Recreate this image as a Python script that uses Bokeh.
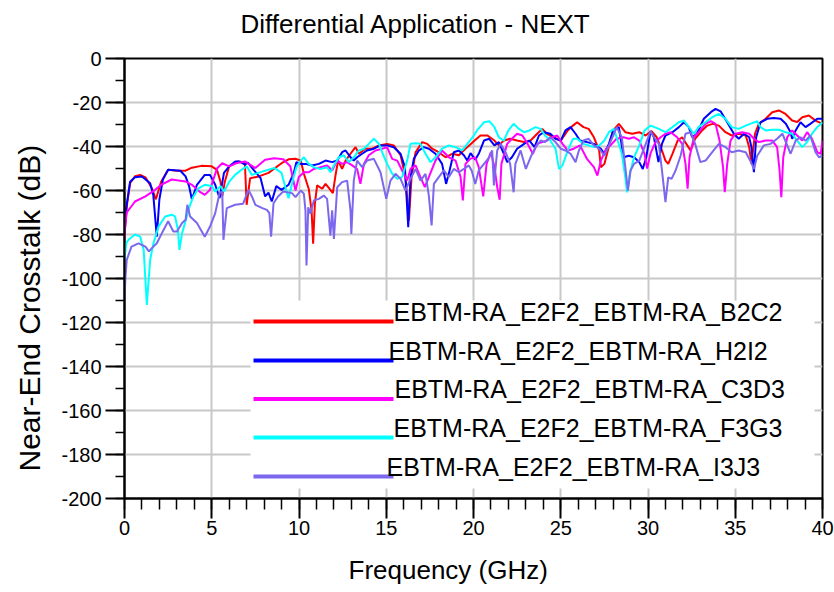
from bokeh.plotting import figure
from bokeh.models import (Range1d, SingleIntervalTicker, Label, BoxAnnotation, PrintfTickFormatter, Title)
from bokeh.embed import file_html
from bokeh.resources import INLINE

TITLE = "Differential Application - NEXT"
X_LABEL = "Frequency (GHz)"
Y_LABEL = "Near-End Crosstalk (dB)"

names = [
    "EBTM-RA_E2F2_EBTM-RA_B2C2",
    "EBTM-RA_E2F2_EBTM-RA_H2I2",
    "EBTM-RA_E2F2_EBTM-RA_C3D3",
    "EBTM-RA_E2F2_EBTM-RA_F3G3",
    "EBTM-RA_E2F2_EBTM-RA_I3J3",
]
colors = ["#ff0000", "#0000ff", "#ff00ff", "#00ffff", "#7b68ee"]

# (frequency GHz, dB) pairs
red = [(0, -80), (0.15, -66), (0.32, -56.7), (0.6, -53.5), (0.9, -52.9), (1.2, -54), (1.57, -59), (1.8, -64),
       (2.1, -56), (2.5, -50.6), (3.0, -51), (3.5, -51), (3.8, -49.8), (4.4, -48.8), (5.0, -49), (5.3, -50.6),
       (5.5, -56), (5.6, -62.7), (5.75, -56), (6.0, -49), (6.5, -46.8), (6.9, -47.6), (7.0, -66.5), (7.2, -54.4),
       (7.7, -53.6), (8.25, -52), (9.0, -47.6), (9.4, -45.8), (9.8, -45.6), (10.1, -46.4), (10.28, -52.4),
       (10.56, -59.3), (10.72, -69), (10.81, -84.2), (10.91, -66), (11.04, -57.7), (11.33, -59.2), (11.52, -57),
       (11.71, -58.8), (11.94, -61.2), (12.09, -53.2), (12.24, -46.4), (12.47, -50.2), (12.67, -46.4),
       (12.95, -43.3), (13.24, -40.3), (13.43, -43.3), (13.81, -41), (14.19, -41), (14.58, -39.5), (15.05, -38.8),
       (15.43, -39.5), (15.82, -44), (16.1, -53.9), (16.3, -73.6), (16.45, -53.9), (16.68, -42.6), (17.06, -38),
       (17.35, -38.8), (17.63, -41), (18.0, -42.6), (18.4, -44.9), (18.78, -43.3), (19.16, -44), (19.54, -41),
       (19.83, -39), (20.1, -37), (20.4, -35), (20.8, -35), (21.2, -37.3), (21.45, -39.5), (21.74, -37.3),
       (22.1, -36.5), (22.5, -37.3), (22.9, -38), (23.27, -37.3), (23.65, -34.2), (23.94, -32), (24.2, -34.2),
       (24.6, -35.8), (25.0, -37.3), (25.4, -32.7), (25.7, -30.5), (25.94, -29), (26.3, -31.2), (26.6, -32),
       (26.9, -35.8), (27.2, -41.8), (27.3, -49.4), (27.5, -47.9), (27.7, -41.8), (28.0, -32.7), (28.33, -29.7),
       (28.7, -33.5), (29.1, -34.2), (29.5, -33.5), (29.86, -35), (30.2, -33), (30.5, -35.8), (30.8, -41.8),
       (31.0, -46.4), (31.16, -47.9), (31.4, -43.3), (31.7, -37.3), (31.96, -35.8), (32.25, -39.5), (32.44, -41.8),
       (32.7, -36.5), (33.1, -32.7), (33.4, -30.5), (33.7, -29.7), (34.06, -30.5), (34.44, -33.5), (34.8, -35),
       (35.2, -34.2), (35.6, -35), (35.8, -40.3), (35.93, -47.9), (36.13, -34.2), (36.35, -29.7), (36.74, -27.4),
       (37.12, -24.4), (37.5, -23.6), (37.88, -25.2), (38.26, -28.2), (38.55, -28.9), (38.84, -26.7),
       (39.22, -25.9), (39.6, -28.2), (40.0, -29.7)]

blue = [(0, -80), (0.1, -68), (0.32, -56), (0.6, -54), (1.0, -53.6), (1.47, -56.7), (1.65, -62), (1.85, -81),
        (2.0, -64), (2.2, -55), (2.5, -50.6), (3.2, -51), (3.5, -53.6), (3.7, -58), (3.86, -64), (4.15, -57.4),
        (4.6, -52.9), (4.9, -52.9), (5.2, -57.4), (5.45, -63.5), (5.7, -52), (6.0, -49), (6.35, -46.8),
        (6.6, -46.8), (6.9, -48.3), (7.07, -47.3), (7.4, -50.6), (7.8, -54.4), (8.06, -62.7), (8.25, -61),
        (8.44, -65), (8.7, -58), (9.0, -59.7), (9.4, -57.4), (9.7, -52), (9.85, -47.1), (10.1, -47.9),
        (10.37, -47.9), (10.75, -48.6), (11.14, -47.9), (11.52, -46.4), (11.9, -47.1), (12.19, -46.4),
        (12.47, -42.6), (12.67, -41.8), (12.95, -44.9), (13.14, -46.4), (13.33, -44.9), (13.62, -43.3),
        (13.9, -41.8), (14.29, -41), (14.67, -39.5), (15.05, -39.5), (15.43, -40.3), (15.82, -43.3),
        (16.07, -49.4), (16.26, -76.7), (16.39, -53.9), (16.58, -45.6), (16.87, -41.8), (17.15, -40.3),
        (17.44, -41), (17.82, -43.3), (18.2, -47.9), (18.43, -57), (18.63, -50.9), (18.87, -42.6), (19.16, -41.8),
        (19.45, -44), (19.64, -46.4), (19.83, -43), (20.1, -46), (20.3, -43.3), (20.6, -37.3), (20.9, -36.5),
        (21.2, -39.5), (21.45, -38), (21.74, -43.3), (21.93, -47.1), (22.2, -44.9), (22.5, -41), (22.9, -38.8),
        (23.2, -37.3), (23.5, -40.3), (23.75, -35), (24.03, -33.5), (24.4, -34.2), (24.7, -36.5), (25.0, -37.3),
        (25.27, -32.7), (25.56, -31.2), (25.85, -34.2), (26.1, -37.3), (26.5, -38), (26.9, -38.8), (27.3, -41),
        (27.5, -43.3), (27.76, -38.8), (28.0, -32.7), (28.33, -31.2), (28.6, -44.9), (28.9, -44.2), (29.2, -44.9),
        (29.5, -47.1), (29.7, -50.2), (29.9, -44.9), (30.15, -33), (30.34, -35.8), (30.6, -47.1), (30.8, -38.8),
        (31.0, -35), (31.4, -33.5), (31.77, -31.2), (32.06, -29), (32.34, -31.2), (32.53, -35.8), (32.8, -34.2),
        (33.2, -27.4), (33.6, -24.4), (33.87, -22.9), (34.16, -24), (34.54, -29), (34.92, -34.2), (35.2, -36.5),
        (35.5, -34.2), (35.8, -35.8), (35.93, -40.3), (36.07, -51.7), (36.2, -35.8), (36.45, -29), (36.83, -27.4),
        (37.2, -27), (37.6, -27.4), (37.9, -29.7), (38.17, -33.5), (38.26, -36.5), (38.46, -32.7), (38.74, -29),
        (39.03, -31.2), (39.3, -29.7), (39.7, -27.4), (40.0, -27.4)]

magenta = [(0, -82), (0.05, -75), (0.13, -70), (0.6, -65), (1.2, -62.7), (1.76, -59.7), (2.1, -57.4), (2.7, -55),
           (3.5, -55.9), (3.86, -57.4), (4.3, -60.5), (4.6, -62), (4.9, -59.7), (5.3, -50), (5.6, -47.6),
           (6.0, -49), (6.4, -47.6), (6.9, -46.8), (7.5, -49.8), (8.06, -46), (8.6, -45.3), (9.1, -45.8),
           (9.5, -49), (9.8, -60), (9.99, -53.9), (10.28, -51.7), (10.56, -51.7), (10.85, -50.2), (11.23, -49.4),
           (11.61, -48.6), (11.9, -50.9), (12.19, -46.4), (12.47, -47.9), (12.76, -47.1), (13.05, -48.6),
           (13.33, -50.2), (13.52, -57), (13.72, -47.9), (14.0, -44), (14.38, -41.8), (14.77, -41), (15.05, -40.3),
           (15.34, -45.6), (15.63, -46.4), (15.91, -50.9), (16.2, -55.5), (16.39, -50.2), (16.68, -48.6),
           (16.96, -53.9), (17.21, -58.5), (17.44, -53.9), (17.82, -46.4), (18.2, -41.8), (18.59, -44.9),
           (18.97, -46.4), (19.26, -53.9), (19.39, -64.5), (19.54, -47.9), (19.83, -45.5), (20.1, -45),
           (20.3, -49.4), (20.56, -62.7), (20.75, -47.9), (21.0, -42.6), (21.2, -49.4), (21.36, -58.5),
           (21.5, -64.2), (21.6, -47.9), (21.93, -38.8), (22.2, -36.5), (22.5, -34.2), (22.8, -35), (23.1, -38.8),
           (23.4, -43.3), (23.65, -38.8), (23.94, -38), (24.2, -37.3), (24.5, -35.8), (24.8, -35), (25.1, -38.8),
           (25.4, -41.8), (25.75, -41), (26.1, -39.5), (26.5, -45.6), (26.9, -49.4), (27.1, -53.2), (27.3, -46.4),
           (27.6, -41), (27.85, -39.5), (28.2, -36.5), (28.6, -35.8), (28.9, -36.5), (29.2, -35.8), (29.5, -37.3),
           (29.8, -43.3), (29.95, -50), (30.15, -43), (30.43, -38), (30.72, -35.8), (31.0, -34.2), (31.3, -33.5),
           (31.67, -35.8), (31.96, -38.8), (32.15, -47.9), (32.27, -59.2), (32.38, -44.9), (32.63, -35.8),
           (32.9, -33.5), (33.3, -29.7), (33.6, -28.5), (33.87, -29.7), (34.1, -37.3), (34.3, -49.4), (34.4, -60.8),
           (34.54, -47.9), (34.73, -37.3), (35.0, -34.2), (35.4, -33.5), (35.8, -34.2), (36.07, -36.5),
           (36.35, -38), (36.74, -37.3), (37.12, -37.3), (37.4, -40.3), (37.54, -50.9), (37.64, -63),
           (37.75, -44.9), (37.98, -35.8), (38.26, -32.7), (38.55, -35), (38.84, -37.3), (39.12, -33.5),
           (39.4, -36.5), (39.7, -42.6), (39.9, -43.3), (40.0, -37.3)]

cyan = [(0, -91.5), (0.1, -84), (0.23, -82.4), (0.6, -80), (0.9, -81), (1.1, -87), (1.28, -112), (1.47, -91.5),
        (1.66, -84), (1.95, -76.4), (2.33, -71.8), (2.7, -71), (2.9, -71.8), (3.06, -77.9), (3.15, -87),
        (3.3, -79.4), (3.57, -71.8), (3.76, -66.5), (3.95, -62.7), (4.24, -59), (4.6, -57.4), (5.0, -58),
        (5.2, -60.5), (5.5, -58), (5.7, -60.5), (6.0, -56), (6.34, -52.9), (6.7, -50.6), (7.0, -49), (7.3, -52.9),
        (7.9, -51.4), (8.6, -49.8), (9.0, -52), (9.2, -58), (9.4, -63.5), (9.7, -53.6), (9.85, -49.5),
        (10.1, -46.4), (10.28, -44.9), (10.56, -47.9), (10.85, -49.4), (11.23, -50.2), (11.61, -49.4),
        (11.8, -51.7), (12.0, -48.6), (12.28, -44.9), (12.57, -44), (12.86, -47.1), (13.14, -44.9),
        (13.43, -41.8), (13.72, -41), (14.0, -38.8), (14.29, -36.5), (14.58, -38.8), (14.8, -43.3),
        (15.05, -47.9), (15.34, -52.4), (15.63, -54.7), (15.91, -53.9), (16.2, -46.4), (16.39, -38.8),
        (16.68, -38.5), (16.96, -38.8), (17.25, -43.3), (17.54, -47.1), (17.82, -44.9), (18.2, -41),
        (18.59, -39.5), (18.97, -40.3), (19.35, -41.8), (19.73, -38), (20.02, -35), (20.2, -32.7), (20.6, -29),
        (20.9, -28.5), (21.2, -31.2), (21.45, -35.8), (21.74, -37.3), (22.0, -32.7), (22.3, -29.7), (22.6, -32),
        (22.9, -33.5), (23.2, -32.7), (23.55, -31.2), (23.85, -32), (24.1, -35), (24.4, -37.3), (24.7, -41),
        (24.9, -50.2), (25.1, -48.6), (25.4, -41.8), (25.7, -36.5), (25.94, -36.5), (26.3, -38.8), (26.6, -39.5),
        (26.9, -40.3), (27.2, -39.5), (27.5, -37.3), (27.76, -33.5), (28.05, -32), (28.2, -35.8), (28.5, -43.3),
        (28.7, -54), (28.8, -60.8), (28.96, -52.4), (29.2, -44.9), (29.5, -39.5), (29.8, -32.7), (30.15, -30.5),
        (30.62, -32), (31.0, -33.5), (31.4, -31.2), (31.77, -29), (32.06, -28.2), (32.34, -31.2), (32.63, -34.2),
        (32.9, -31.2), (33.3, -29), (33.68, -26.7), (34.06, -25.2), (34.44, -27.4), (34.8, -31.2), (35.2, -32),
        (35.6, -30.5), (35.97, -29.4), (36.26, -28.5), (36.45, -31.2), (36.74, -32.7), (37.12, -32.4),
        (37.5, -32.4), (37.88, -33.5), (38.26, -34.2), (38.55, -37.3), (38.84, -40.3), (39.12, -38),
        (39.4, -34.2), (39.7, -31.2), (40.0, -29)]

purple = [(0, -110), (0.05, -100), (0.13, -91.5), (0.4, -85.5), (0.8, -84), (1.2, -85.5), (1.4, -87.7),
          (1.57, -86.2), (1.85, -84), (2.14, -79.4), (2.5, -74), (2.8, -78.6), (3.0, -78.6), (3.3, -74.8),
          (3.5, -73.3), (3.6, -66.5), (3.76, -71.8), (4.15, -74.8), (4.43, -78.6), (4.6, -81), (4.9, -76.4),
          (5.2, -70.3), (5.45, -61), (5.6, -60.5), (5.67, -82.4), (5.86, -68), (6.34, -66.5), (6.8, -66),
          (7.1, -59.7), (7.3, -62.7), (7.5, -66.5), (7.9, -68), (8.16, -68.8), (8.3, -70.3), (8.4, -81),
          (8.54, -65.8), (8.8, -62.7), (9.1, -60.5), (9.6, -61.2), (9.8, -63), (10.1, -60), (10.28, -61.5),
          (10.37, -69), (10.43, -94.1), (10.53, -67.6), (10.66, -70.6), (10.85, -64.5), (11.14, -63.8),
          (11.42, -62.3), (11.61, -63.8), (11.8, -80.5), (11.9, -69), (12.0, -82), (12.19, -58.5), (12.47, -56.2),
          (12.76, -55.5), (12.95, -69), (13.0, -79.7), (13.14, -55.5), (13.33, -46.4), (13.62, -49.4),
          (13.9, -46.4), (14.29, -45.6), (14.67, -51.7), (15.0, -63.8), (15.24, -55.5), (15.53, -52.4),
          (15.82, -54.7), (16.1, -60), (16.39, -54.7), (16.68, -50.2), (16.96, -55.5), (17.25, -52.4),
          (17.44, -62.3), (17.6, -75.9), (17.73, -57), (18.01, -53.9), (18.3, -50.9), (18.59, -53.9),
          (18.87, -50.2), (19.16, -51.7), (19.45, -50.2), (19.73, -48.6), (19.9, -51), (20.1, -57), (20.3, -50.9),
          (20.6, -47.9), (20.9, -44.9), (21.07, -41.8), (21.17, -57.7), (21.36, -41.8), (21.55, -38.8),
          (21.84, -42.6), (22.1, -47.9), (22.3, -60.8), (22.4, -47.9), (22.7, -41.8), (23.0, -50.2),
          (23.27, -44.9), (23.55, -40.3), (23.85, -37.3), (24.1, -38), (24.4, -35.8), (24.7, -38), (25.0, -41),
          (25.27, -41.8), (25.56, -43.3), (25.85, -47.1), (26.04, -41.8), (26.3, -37.3), (26.6, -36.5),
          (26.9, -39.5), (27.2, -41), (27.5, -44.2), (27.76, -39.5), (28.05, -34.2), (28.2, -31.2), (28.5, -35.8),
          (28.7, -49.4), (28.85, -60), (29.0, -50.9), (29.2, -47.9), (29.5, -46.4), (29.8, -40.3), (30.15, -33),
          (30.34, -35.8), (30.62, -38.8), (30.8, -50.9), (31.0, -65.3), (31.16, -54), (31.35, -54.7),
          (31.58, -50.9), (31.87, -44.2), (32.15, -34.2), (32.44, -33.5), (32.7, -38.8), (33.0, -47.1),
          (33.3, -46.4), (33.68, -42.6), (34.06, -38.8), (34.44, -40.3), (34.8, -42.6), (35.2, -41.8),
          (35.6, -42.6), (35.9, -47.1), (36.07, -50.2), (36.26, -44.2), (36.64, -39.5), (37.02, -38.8),
          (37.4, -36.5), (37.7, -34.2), (37.98, -39.5), (38.17, -43.3), (38.46, -37.3), (38.74, -35.8),
          (39.03, -37.3), (39.3, -35), (39.6, -42.6), (39.8, -44.9), (40.0, -44.2)]

series_data = [red, blue, magenta, cyan, purple]

FONT = "Liberation Sans"

p = figure(width=834, height=592, output_backend="svg", toolbar_location=None,
           x_range=Range1d(0, 40), y_range=Range1d(-200, 0),
           min_border_left=124, min_border_right=12, min_border_top=58, min_border_bottom=94)

p.background_fill_color = "white"
p.border_fill_color = "white"
p.outline_line_color = "black"
p.outline_line_width = 2
p.title.text = ""


def spacer(standoff):
    # white-on-white title used only to reserve space between a side text and the frame
    return Title(text=".", standoff=standoff, text_font_size="10px", text_color="white")


# side panels stack outward from the frame in list order
p.add_layout(spacer(10), "above")
title = Title(text=TITLE, align="left", offset=116, standoff=0,
              text_font=FONT, text_font_size="26px", text_font_style="normal", text_color="black")
p.add_layout(title, "above")

p.xaxis.ticker = SingleIntervalTicker(interval=5, num_minor_ticks=5)
p.yaxis.ticker = SingleIntervalTicker(interval=20, num_minor_ticks=2)
p.xaxis.formatter = PrintfTickFormatter(format="%d")
p.yaxis.formatter = PrintfTickFormatter(format="%d")

for ax in (p.xaxis[0], p.yaxis[0]):
    ax.axis_line_color = "black"
    ax.axis_line_width = 2
    ax.major_tick_line_color = "black"
    ax.major_tick_line_width = 2
    ax.minor_tick_line_color = "black"
    ax.minor_tick_line_width = 1.5
    ax.major_tick_in = 0
    ax.minor_tick_in = 0
    ax.major_label_text_font = FONT
    ax.major_label_text_font_size = "20px"
    ax.major_label_text_color = "black"

p.xaxis.major_tick_out = 20
p.xaxis.minor_tick_out = 11
p.yaxis.major_tick_out = 19
p.yaxis.minor_tick_out = 9
p.xaxis.major_label_standoff = 2
p.yaxis.major_label_standoff = 4

p.add_layout(spacer(5), "below")
xlab = Title(text=X_LABEL, align="left", offset=224, standoff=0,
             text_font=FONT, text_font_size="26px", text_font_style="normal", text_color="black")
p.add_layout(xlab, "below")
p.add_layout(spacer(3), "left")
ylab = Title(text=Y_LABEL, align="left", offset=27, standoff=0,
             text_font=FONT, text_font_size="30px", text_font_style="normal", text_color="black")
p.add_layout(ylab, "left")

p.xgrid.grid_line_color = "#c8c8c8"
p.ygrid.grid_line_color = "#c8c8c8"
p.xgrid.grid_line_width = 2
p.ygrid.grid_line_width = 2

for pts, color in zip(series_data, colors):
    xs = [a for a, b in pts]
    ys = [b for a, b in pts]
    p.line(xs, ys, line_color=color, line_width=2)

# legend drawn as annotations placed in screen pixels from the frame's bottom-left corner
p.add_layout(BoxAnnotation(left=126, right=690, bottom=10, top=198,
                           left_units="screen", right_units="screen",
                           bottom_units="screen", top_units="screen",
                           fill_color="white", fill_alpha=1.0, line_alpha=0, level="annotation"))
row_y = [177, 138, 99.5, 61, 22]
text_dx = [269, 264, 270, 269, 262]
for name, color, ry, dx in zip(names, colors, row_y, text_dx):
    p.add_layout(BoxAnnotation(left=129, right=269, bottom=ry - 2, top=ry + 2,
                               left_units="screen", right_units="screen",
                               bottom_units="screen", top_units="screen",
                               fill_color=color, fill_alpha=1.0, line_alpha=0, level="annotation"))
    p.add_layout(Label(x=dx, y=ry + 10, x_units="screen", y_units="screen", text=name,
                       text_font=FONT, text_font_size="25px", text_color="black",
                       text_align="left", text_baseline="middle"))

open("out.html", "w").write(file_html(p, INLINE))
